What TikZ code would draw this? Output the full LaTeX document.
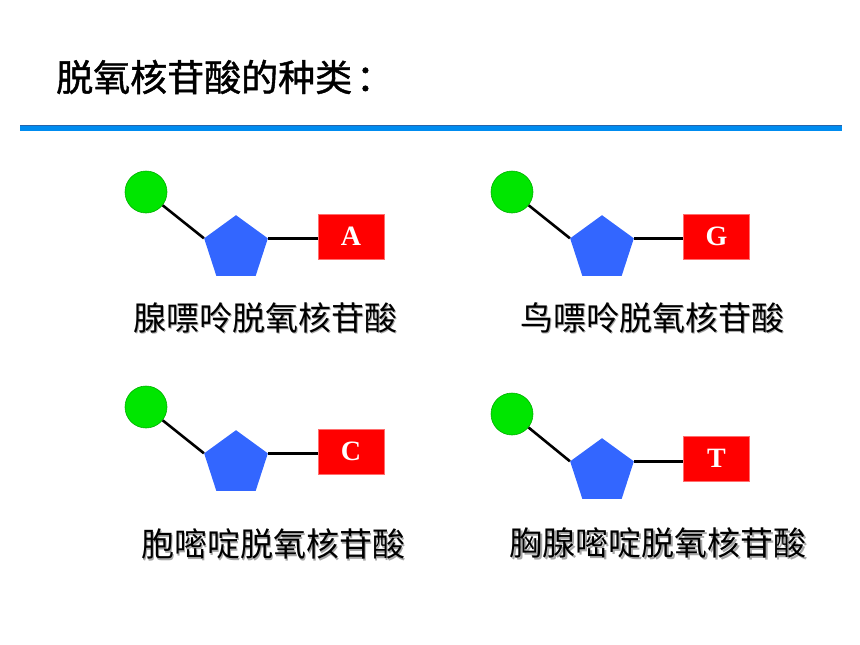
\documentclass[tikz,border=0pt]{standalone}
\usepackage{fontspec}
\setmainfont{Liberation Serif}
\newfontfamily\cjk{Noto Sans CJK SC}
\newfontfamily\cjkt[FakeBold=1.2]{Noto Sans CJK SC}
\usetikzlibrary{shapes.geometric}
\definecolor{phosgreen}{RGB}{0,230,0}
\definecolor{phosedge}{RGB}{0,175,0}
\definecolor{sugarblue}{RGB}{51,102,255}
\definecolor{basered}{RGB}{255,0,0}
\definecolor{baseedge}{RGB}{255,110,110}
\definecolor{rulerblue}{RGB}{0,140,240}
\definecolor{ruledark}{RGB}{40,100,170}
\tikzset{
  phos/.style={circle, minimum size=42pt, inner sep=0pt, fill=phosgreen, draw=phosedge, line width=0.6pt},
  sugar/.style={regular polygon, regular polygon sides=5, minimum size=67pt, inner sep=0pt, fill=sugarblue},
  base/.style={rectangle, minimum width=66pt, minimum height=45pt, inner sep=0pt, fill=basered, draw=baseedge, line width=0.6pt, text=white, font=\fontsize{28}{30}\selectfont\bfseries},
  bond/.style={line width=2.6pt, black},
  lbl/.style={inner sep=0pt, font=\cjk\fontsize{33}{40}\selectfont, text=black},
  lblsh/.style={inner sep=0pt, font=\cjk\fontsize{33}{40}\selectfont, text=black!35},
  ttl/.style={inner sep=0pt, anchor=west, font=\cjkt\fontsize{37}{42}\selectfont, text=black}
}
\begin{document}
\begin{tikzpicture}[x=1pt,y=-1pt]
\useasboundingbox (0,0) rectangle (860,645);
% title
\node[ttl] (title) at (56,77) {脱氧核苷酸的种类\hspace{4pt}：};
% rule
\coordinate (rl) at (20,128);
\coordinate (rr) at (842,128);
\draw[line width=5pt, rulerblue] (rl) -- (rr);
\coordinate (rlt) at (20,125.8);
\coordinate (rrt) at (842,125.8);
\draw[line width=0.8pt, ruledark] (rlt) -- (rrt);

% molecule 1
\node[phos] (c1) at (146,192) {};
\node[sugar] (p1) at (236,248.7) {};
\node[base] (b1) at (351,236.5) {A};
\draw[bond] (c1) -- (p1.corner 2);
\draw[bond] (p1.corner 5) -- (p1.corner 5 -| b1.west);
\node[lblsh] (s1) at (266.5,319.5) {腺嘌呤脱氧核苷酸};
\node[lbl] (l1) at (265,318) {腺嘌呤脱氧核苷酸};

% molecule 2
\node[phos] (c2) at (512,192) {};
\node[sugar] (p2) at (602,248.7) {};
\node[base] (b2) at (716.5,236.5) {G};
\draw[bond] (c2) -- (p2.corner 2);
\draw[bond] (p2.corner 5) -- (p2.corner 5 -| b2.west);
\node[lblsh] (s2) at (653.5,319.5) {鸟嘌呤脱氧核苷酸};
\node[lbl] (l2) at (652,318) {鸟嘌呤脱氧核苷酸};

% molecule 3
\node[phos] (c3) at (146,407) {};
\node[sugar] (p3) at (236,463.7) {};
\node[base] (b3) at (351,451.5) {C};
\draw[bond] (c3) -- (p3.corner 2);
\draw[bond] (p3.corner 5) -- (p3.corner 5 -| b3.west);
\node[lblsh] (s3) at (274.5,545.5) {胞嘧啶脱氧核苷酸};
\node[lbl] (l3) at (273,544) {胞嘧啶脱氧核苷酸};

% molecule 4
\node[phos] (c4) at (512,414) {};
\node[sugar] (p4) at (602,471.7) {};
\node[base] (b4) at (716.5,458.5) {T};
\draw[bond] (c4) -- (p4.corner 2);
\draw[bond] (p4.corner 5) -- (p4.corner 5 -| b4.west);
\node[lblsh] (s4) at (659.5,544.5) {胸腺嘧啶脱氧核苷酸};
\node[lbl] (l4) at (658,543) {胸腺嘧啶脱氧核苷酸};
\end{tikzpicture}
\end{document}
